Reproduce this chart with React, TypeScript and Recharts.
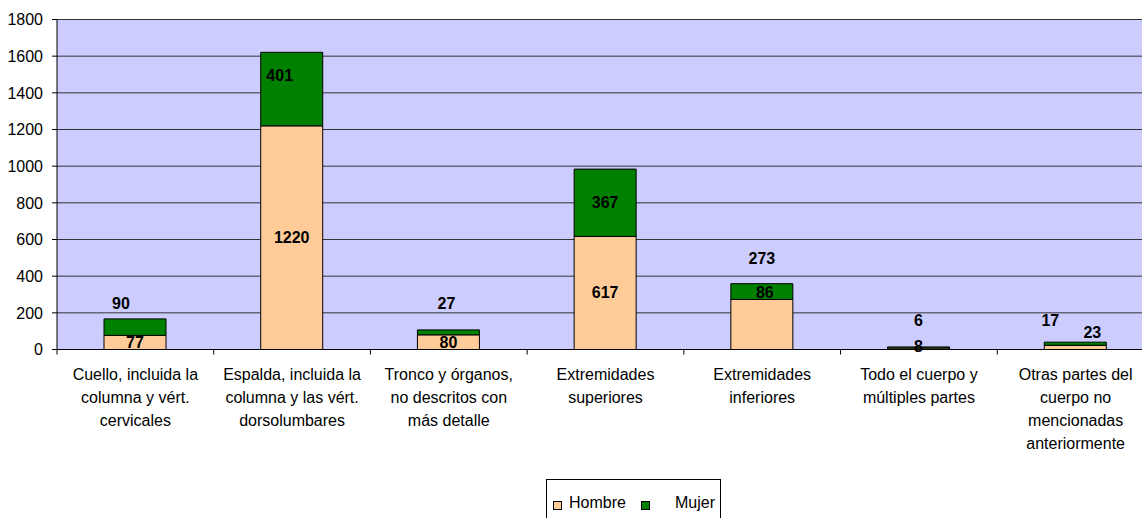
import React from 'react';
import { BarChart, Bar, XAxis, YAxis, CartesianGrid, Legend, LabelList } from 'recharts';

const categories = [
  ['Cuello, incluida la', 'columna y vért.', 'cervicales'],
  ['Espalda, incluida la', 'columna y las vért.', 'dorsolumbares'],
  ['Tronco y órganos,', 'no descritos con', 'más detalle'],
  ['Extremidades', 'superiores'],
  ['Extremidades', 'inferiores'],
  ['Todo el cuerpo y', 'múltiples partes'],
  ['Otras partes del', 'cuerpo no', 'mencionadas', 'anteriormente'],
];
const hombre = [77, 1220, 80, 617, 273, 8, 23];
const mujer = [90, 401, 27, 367, 86, 6, 17];
const yTicks = [0, 200, 400, 600, 800, 1000, 1200, 1400, 1600, 1800];

// the labels in the original were dragged around by hand: shift from segment centre, px
const hombreShift = [[0, 0], [0, 0], [0, 0], [0, 0], [0, -66], [0, -2], [17, -15]];
const mujerShift = [[-14, -24], [-12, -14], [-2, -29], [0, 0], [3, 1], [0, -27], [-25, -23]];

const FONT = '"Liberation Sans", Arial, sans-serif';
const FS = 16;
const PEACH = '#FFCC99';
const GREEN = '#008000';

const data = categories.map((lines, i) => ({
  name: lines.join(' '),
  Hombre: hombre[i],
  Mujer: mujer[i],
}));

const shiftedLabel = (shift: number[][]) => (props: any) => {
  const vb = props.viewBox ?? props;
  const x = Number(vb.x), y = Number(vb.y), w = Number(vb.width), h = Number(vb.height);
  const [dx, dy] = shift[props.index] ?? [0, 0];
  return (
    <text
      x={x + w / 2 + dx}
      y={y + h / 2 + dy}
      textAnchor="middle"
      dominantBaseline="central"
      fontFamily={FONT}
      fontWeight="bold"
      fontSize={FS}
      fill="#000"
    >
      {props.value}
    </text>
  );
};

const CategoryTick = (props: any) => {
  const { x, y, payload, index } = props;
  const lines = categories[payload.index ?? index] ?? [String(payload.value)];
  const half = payload.offset ?? 0;
  const axisY = y - 8;
  return (
    <g>
      <line x1={x - half} x2={x - half} y1={axisY} y2={axisY + 5} stroke="#000" />
      {index === categories.length - 1 && (
        <line x1={x + half} x2={x + half} y1={axisY} y2={axisY + 5} stroke="#000" />
      )}
      <text x={x} y={y} textAnchor="middle" fontFamily={FONT} fontSize={FS} fill="#000">
        {lines.map((l, i) => (
          <tspan key={i} x={x} dy={i === 0 ? 22 : 23}>{l}</tspan>
        ))}
      </text>
    </g>
  );
};

const LegendBox = (props: any) => {
  const items = props.payload ?? [];
  const pos = [6, 94];
  const textPos = [22, 128];
  return (
    <div
      style={{
        position: 'relative',
        width: 175,
        height: 50,
        border: '1px solid #000',
        boxSizing: 'border-box',
        background: '#fff',
        fontFamily: FONT,
        fontSize: FS,
        color: '#000',
      }}
    >
      {items.map((it: any, i: number) => (
        <React.Fragment key={it.value}>
          <span
            style={{
              position: 'absolute',
              left: pos[i],
              top: 21,
              width: 7,
              height: 7,
              border: '1px solid #000',
              background: it.color,
            }}
          />
          <span style={{ position: 'absolute', left: textPos[i], top: 14, lineHeight: '18px' }}>
            {it.value}
          </span>
        </React.Fragment>
      ))}
    </div>
  );
};

export default function App() {
  return (
    <div
      style={{
        position: 'absolute',
        left: 0,
        top: 0,
        width: 1142,
        height: 518,
        overflow: 'hidden',
        background: '#fff',
      }}
    >
      <BarChart
        width={1160}
        height={518}
        data={data}
        margin={{ top: 19.5, right: 6, left: 0, bottom: 28.5 }}
      >
        <CartesianGrid vertical={false} stroke="#333" fill="#CCCCFF" fillOpacity={1} />
        <XAxis
          dataKey="name"
          interval={0}
          height={140}
          tickLine={false}
          tickSize={6}
          tickMargin={2}
          axisLine={{ stroke: '#000' }}
          tick={<CategoryTick />}
        />
        <YAxis
          width={57}
          domain={[0, 1800]}
          ticks={yTicks}
          interval={0}
          tickSize={5}
          tickMargin={9}
          axisLine={{ stroke: '#000' }}
          tickLine={{ stroke: '#000' }}
          tick={{ fill: '#000', fontSize: FS, fontFamily: FONT }}
        />
        <Legend
          layout="horizontal"
          verticalAlign="middle"
          align="center"
          wrapperStyle={{ left: 546, top: 479, width: 175, height: 50 }}
          content={<LegendBox />}
        />
        <Bar dataKey="Hombre" stackId="a" fill={PEACH} stroke="#000" strokeWidth={1} barSize={62} isAnimationActive={false}>
          <LabelList dataKey="Hombre" content={shiftedLabel(hombreShift)} />
        </Bar>
        <Bar dataKey="Mujer" stackId="a" fill={GREEN} stroke="#000" strokeWidth={1} barSize={62} isAnimationActive={false}>
          <LabelList dataKey="Mujer" content={shiftedLabel(mujerShift)} />
        </Bar>
      </BarChart>
    </div>
  );
}
